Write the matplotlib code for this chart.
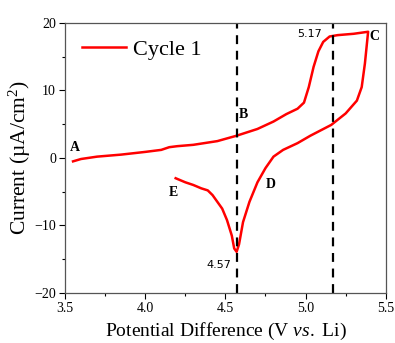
import numpy as np
import matplotlib
matplotlib.use('Agg')
import matplotlib.pyplot as plt

plt.rcParams['mathtext.fontset'] = 'custom'
plt.rcParams['mathtext.rm'] = 'Liberation Serif'
plt.rcParams['mathtext.it'] = 'Liberation Serif:italic'

# forward scan A -> C
fwd_v = [3.55, 3.60, 3.70, 3.85, 4.00, 4.10, 4.15, 4.20, 4.30, 4.45, 4.57, 4.70, 4.80, 4.88,
         4.95, 4.99, 5.02, 5.05, 5.08, 5.11, 5.15, 5.20, 5.30, 5.39]
fwd_i = [-0.5, -0.15, 0.2, 0.5, 0.9, 1.2, 1.6, 1.75, 1.95, 2.5, 3.3, 4.3, 5.4, 6.5,
         7.3, 8.2, 10.5, 13.5, 15.8, 17.2, 18.0, 18.2, 18.4, 18.7]
# reverse scan C -> E
rev_v = [5.37, 5.35, 5.32, 5.25, 5.16, 5.03, 4.95, 4.86, 4.80, 4.75, 4.70, 4.65, 4.61, 4.585,
         4.57, 4.555, 4.54, 4.51, 4.48, 4.45, 4.42, 4.39, 4.35, 4.30, 4.25, 4.19]
rev_i = [14.0, 10.5, 8.5, 6.6, 4.9, 3.3, 2.2, 1.2, 0.2, -1.5, -3.6, -6.5, -9.5, -12.8,
         -13.9, -13.4, -11.5, -9.2, -7.5, -6.5, -5.5, -4.8, -4.5, -4.0, -3.6, -3.0]

peaks = [4.57, 5.17]

v = fwd_v + rev_v
cur = fwd_i + rev_i

fig = plt.figure(figsize=(3.95, 3.43), dpi=100)
ax = fig.add_axes([0.1646, 0.1458, 0.812, 0.7872])
ax.plot(v, cur, color='#ff0000', lw=1.8, label='Cycle 1')
for p in peaks:
    ax.axvline(p, color='black', ls=(0, (4, 3)), lw=1.6)

ax.set_xlim(3.5, 5.5)
ax.set_ylim(-20, 20)
ax.set_xticks([3.5, 4.0, 4.5, 5.0, 5.5])
ax.set_xticks([3.75, 4.25, 4.75, 5.25], minor=True)
ax.set_yticks([-20, -10, 0, 10, 20])
ax.set_yticks([-15, -5, 5, 15], minor=True)
ax.set_xticklabels(['3.5', '4.0', '4.5', '5.0', '5.5'])
ax.tick_params(which='both', direction='out', top=False, right=False,
               labelsize=10, width=0.8, pad=2.5)
ax.tick_params(which='major', length=4)
ax.tick_params(which='minor', length=2.5)
for lab in ax.get_xticklabels() + ax.get_yticklabels():
    lab.set_fontfamily('Liberation Serif')
for s in ax.spines.values():
    s.set_color('#555555')
    s.set_linewidth(0.9)

ax.set_xlabel('Potential Difference (V $\\it{vs.}$ Li)', fontsize=14,
              fontfamily='Liberation Serif', labelpad=4)
ax.set_ylabel('Current (\u00b5A/cm$^2$)', fontsize=15.5,
              fontfamily='Liberation Serif', labelpad=1)

ax.legend(loc='upper left', frameon=False, prop={'family': 'Liberation Serif', 'size': 16},
          handlelength=2.0, handletextpad=0.3, borderaxespad=0.45, borderpad=0.3)

bold = dict(fontfamily='Liberation Serif', fontweight='bold', fontsize=10)
ax.text(3.53, 1.1, 'A', **bold)
ax.text(4.585, 5.9, 'B', **bold)
ax.text(5.40, 17.5, 'C', **bold)
ax.text(4.75, -4.4, 'D', **bold)
ax.text(4.15, -5.6, 'E', **bold)
ax.text(5.10, 17.9, '5.17', fontsize=8, ha='right')
ax.text(4.54, -16.3, '4.57', fontsize=8, ha='right')

plt.savefig('out.png', dpi=100)
